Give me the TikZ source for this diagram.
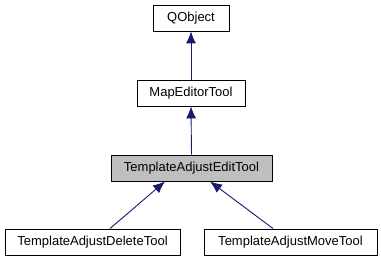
\documentclass[tikz,border=0pt]{standalone}
\usepackage{fontspec}
\setmainfont{Liberation Sans}
\usetikzlibrary{arrows.meta}
\begin{document}
\begin{tikzpicture}[x=1pt,y=-1pt]
% Styles
\tikzstyle{classe}=[draw=black,line width=0.9pt,fill=white,minimum height=26pt,inner sep=0pt,font=\fontsize{13}{15}\selectfont]
\tikzstyle{courante}=[classe,fill={rgb,255:red,191;green,191;blue,191}]
\tikzstyle{heritage}=[<-,>={Latex[length=12pt,width=10pt]},line width=0.9pt,draw={rgb,255:red,25;green,25;blue,112}]
% Cadre
\useasboundingbox[fill=white] (0,0) rectangle (381,261);
% Classes
\node[classe,minimum width=76pt] (qobject) at (191,18) {QObject};
\node[classe,minimum width=108pt] (mapeditortool) at (191,93) {MapEditorTool};
\node[courante,minimum width=161pt] (editTool) at (191.5,168) {TemplateAdjustEditTool};
\node[classe,minimum width=175pt] (deleteTool) at (92.5,242) {TemplateAdjustDeleteTool};
\node[classe,minimum width=173pt] (moveTool) at (290.5,242) {TemplateAdjustMoveTool};
% Heritage
\draw[heritage] (qobject.south) -- (mapeditortool.north);
\draw[heritage] (mapeditortool.south) -- (editTool.north);
\draw[heritage] ([xshift=-26.5pt]editTool.south) -- ([xshift=17.5pt]deleteTool.north);
\draw[heritage] ([xshift=18.5pt]editTool.south) -- ([xshift=-17.5pt]moveTool.north);
\end{tikzpicture}
\end{document}
